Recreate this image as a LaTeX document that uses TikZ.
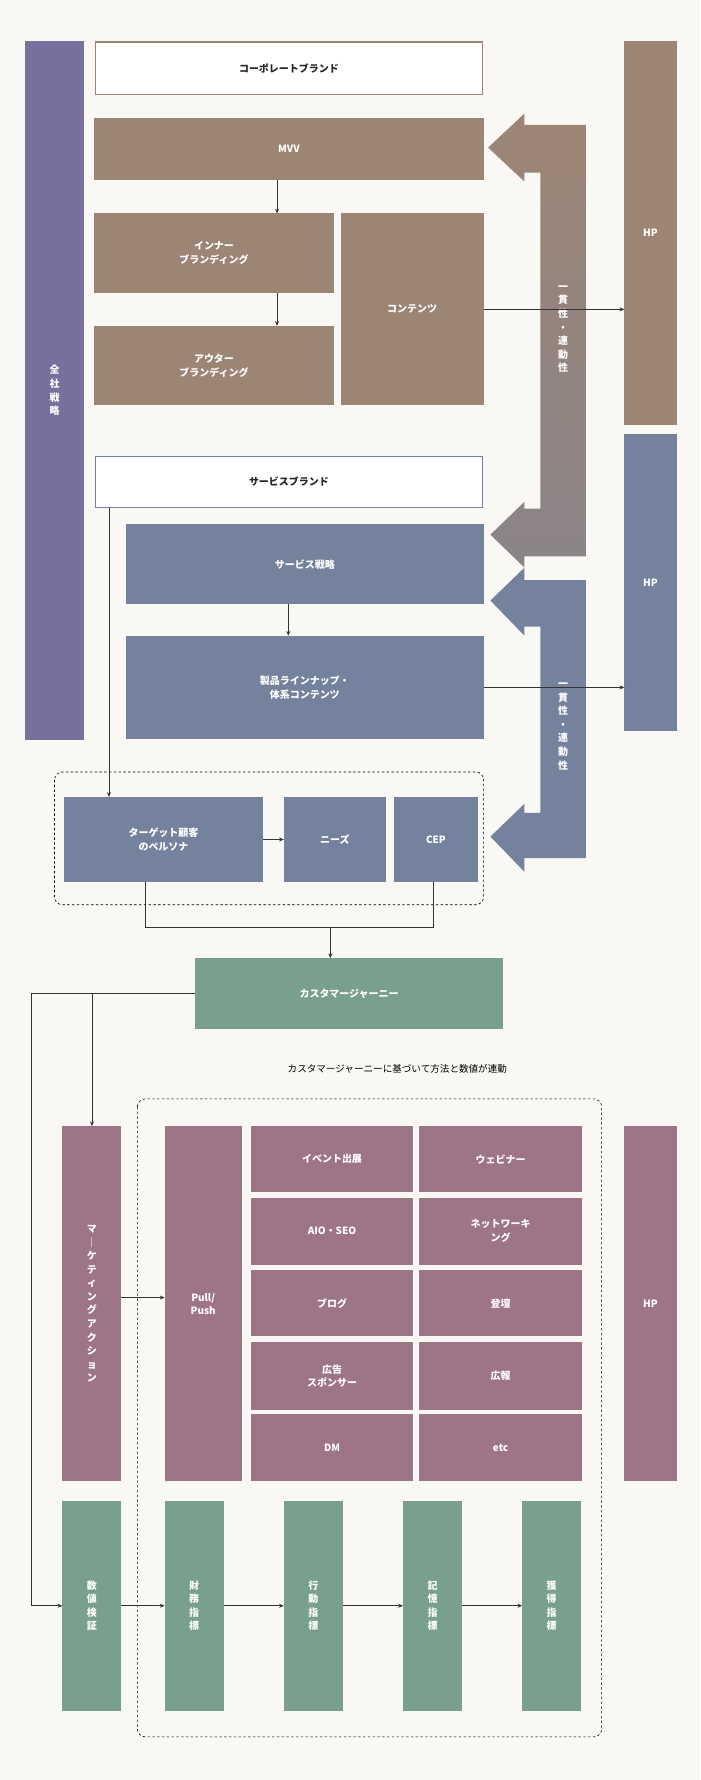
\documentclass[tikz,border=0pt]{standalone}
\usepackage{fontspec}
\setmainfont{Noto Sans CJK JP}
\usetikzlibrary{arrows.meta,calc}
\definecolor{bgColor}{HTML}{FAF8F5}
\definecolor{brColor}{HTML}{9C8575}
\definecolor{blColor}{HTML}{75829E}
\definecolor{puColor}{HTML}{77709C}
\definecolor{mvColor}{HTML}{9E7587}
\definecolor{grColor}{HTML}{78A08C}
\definecolor{lnColor}{HTML}{333333}
\tikzset{
	cell/.style={text=white, font=\fontsize{12.5}{17}\selectfont\bfseries, align=center, inner sep=0, outer sep=0},
	outl/.style={fill=white, line width=1.5pt, text=black!85, font=\fontsize{12.5}{17}\selectfont\bfseries, inner sep=0},
	conn/.style={draw=lnColor, line width=0.8pt},
	arr/.style={conn, -{Stealth[length=6pt,width=5pt]}}
}
% box from two corners: name, style, x1, y1, x2, y2, text
\newcommand{\bx}[7]{\node[#2, minimum width={(#5-#3)*0.05cm}, minimum height={(#6-#4)*0.05cm}] (#1) at ({(#3+#5)/2},{(#4+#6)/2}) {#7};}
\begin{document}
\begin{tikzpicture}[x=0.05cm, y=-0.05cm]
	\fill[bgColor] (0,0) rectangle (617,1568);
	\useasboundingbox (0,0) rectangle (617,1568);
	% corporate
	\bx{zensha}{cell, fill=puColor}{22}{36}{74}{652}{全\\社\\戦\\略}
	\bx{corp}{outl, draw=brColor}{84}{37}{425}{83}{コーポレートブランド}
	\bx{mvv}{cell, fill=brColor}{83}{104}{426}{159}{MVV}
	\bx{inner}{cell, fill=brColor}{83}{188}{294}{258}{インナー\\ブランディング}
	\bx{outer}{cell, fill=brColor}{83}{287}{294}{357}{アウター\\ブランディング}
	\bx{content}{cell, fill=brColor}{300}{188}{426}{357}{コンテンツ}
	\bx{hpa}{cell, fill=brColor}{550}{36}{596}{374}{HP}
	% service
	\bx{svcbrand}{outl, draw=blColor}{84}{402}{425}{447}{サービスブランド}
	\bx{svc}{cell, fill=blColor}{111}{462}{426}{532}{サービス戦略}
	\bx{lineup}{cell, fill=blColor}{111}{560}{426}{651}{製品ラインナップ・\\体系コンテンツ}
	\bx{hpb}{cell, fill=blColor}{550}{382}{596}{644}{HP}
	\draw[dashed, line width=0.8pt, rounded corners=10pt] (48,680) rectangle (426,797);
	\bx{target}{cell, fill=blColor}{56}{702}{232}{777}{ターゲット顧客\\のペルソナ}
	\bx{needs}{cell, fill=blColor}{250}{702}{340}{777}{ニーズ}
	\bx{cep}{cell, fill=blColor}{347}{702}{421}{777}{CEP}
	% consistency arrows
	\shade[top color=brColor, bottom color=brColor!55!blColor] (516,110) -- (462,110) -- (462,100) -- (430,130) -- (462,160) -- (462,152) -- (476,152) -- (476,448) -- (462,448) -- (462,442) -- (432,471) -- (462,500) -- (462,490) -- (516,490) -- cycle;
	\fill[blColor] (516,511) -- (462,511) -- (462,500) -- (432,529) -- (462,560) -- (462,552) -- (476,552) -- (476,716) -- (462,716) -- (462,708) -- (432,737) -- (462,768) -- (462,756) -- (516,756) -- cycle;
	\node[cell] (conA) at (496,290) {一\\貫\\性\\・\\連\\動\\性};
	\node[cell] (conB) at (496,640) {一\\貫\\性\\・\\連\\動\\性};
	% journey
	\bx{cj}{cell, fill=grColor}{172}{844}{443}{906}{カスタマージャーニー}
	\node[font=\fontsize{12}{15}\selectfont] (note) at (350,942) {カスタマージャーニーに基づいて方法と数値が連動};
	\draw[dashed, line width=0.8pt, rounded corners=10pt] (121,968) rectangle (530,1530);
	\bx{mkt}{cell, fill=mvColor}{55}{992}{107}{1305}{マ\\｜\\ケ\\テ\\ィ\\ン\\グ\\ア\\ク\\シ\\ョ\\ン}
	\bx{pull}{cell, fill=mvColor}{145}{992}{213}{1305}{Pull/\\Push}
	\bx{ev}{cell, fill=mvColor}{221}{992}{364}{1050}{イベント出展}
	\bx{web}{cell, fill=mvColor}{369}{992}{513}{1050}{ウェビナー}
	\bx{aio}{cell, fill=mvColor}{221}{1055}{364}{1114}{AIO・SEO}
	\bx{net}{cell, fill=mvColor}{369}{1055}{513}{1114}{ネットワーキ\\ング}
	\bx{blog}{cell, fill=mvColor}{221}{1119}{364}{1177}{ブログ}
	\bx{talk}{cell, fill=mvColor}{369}{1119}{513}{1177}{登壇}
	\bx{ad}{cell, fill=mvColor}{221}{1182}{364}{1242}{広告\\スポンサー}
	\bx{pr}{cell, fill=mvColor}{369}{1182}{513}{1242}{広報}
	\bx{dm}{cell, fill=mvColor}{221}{1246}{364}{1305}{DM}
	\bx{etc}{cell, fill=mvColor}{369}{1246}{513}{1305}{etc}
	\bx{hpc}{cell, fill=mvColor}{550}{992}{596}{1305}{HP}
	\bx{num}{cell, fill=grColor}{55}{1322}{107}{1507}{数\\値\\検\\証}
	\bx{fin}{cell, fill=grColor}{145}{1322}{197}{1507}{財\\務\\指\\標}
	\bx{act}{cell, fill=grColor}{250}{1322}{302}{1507}{行\\動\\指\\標}
	\bx{mem}{cell, fill=grColor}{355}{1322}{407}{1507}{記\\憶\\指\\標}
	\bx{acq}{cell, fill=grColor}{460}{1322}{512}{1507}{獲\\得\\指\\標}
	% connectors
	\draw[arr] (mvv.south -| 244,0) -- (inner.north -| 244,0);
	\draw[arr] (inner.south -| 244,0) -- (outer.north -| 244,0);
	\draw[arr] (content.east) -- (content.east -| hpa.west);
	\draw[arr] (svc.south -| 254,0) -- (lineup.north -| 254,0);
	\draw[arr] (lineup.east) -- (lineup.east -| hpb.west);
	\draw[arr] (svcbrand.south -| 96,0) -- (target.north -| 96,0);
	\draw[arr] (target.east) -- (needs.west);
	\coordinate (join) at (291,817);
	\draw[conn] (target.south -| 128,0) |- (join) -| (cep.south -| 382,0);
	\draw[arr] (join) -- (cj.north -| join);
	\draw[arr] (cj.west) -| ($(num.west)+(-27,0)$) -- (num.west);
	\draw[arr] (cj.west -| mkt.north) -- (mkt.north);
	\draw[arr] (mkt.east |- 0,1143) -- (pull.west |- 0,1143);
	\draw[arr] (num) -- (fin);
	\draw[arr] (fin) -- (act);
	\draw[arr] (act) -- (mem);
	\draw[arr] (mem) -- (acq);
\end{tikzpicture}
\end{document}
